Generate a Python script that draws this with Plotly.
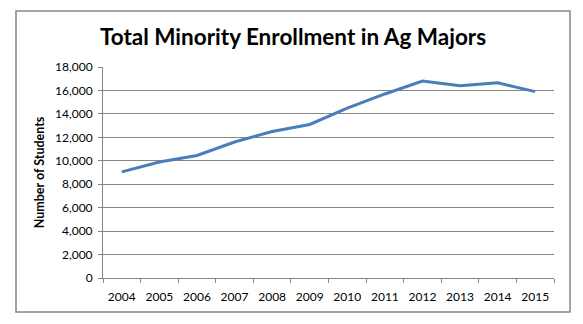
import plotly.graph_objects as go

years = ["2004", "2005", "2006", "2007", "2008", "2009", "2010", "2011", "2012", "2013", "2014", "2015"]
students = [9050, 9900, 10450, 11600, 12500, 13100, 14500, 15700, 16800, 16400, 16650, 15900]
title_text = "Total Minority Enrollment in Ag Majors"
y_title = "Number of Students"

fig = go.Figure()
fig.add_trace(go.Scatter(x=years, y=students, mode="lines",
                         line=dict(color="#4a7ebb", width=3), showlegend=False))

W, H = 583, 324
L, R, T, B = 103, 29, 67, 46
fig.update_layout(
    width=W, height=H,
    margin=dict(l=L, r=R, t=T, b=B),
    paper_bgcolor="white", plot_bgcolor="white",
    font=dict(family="Lato, Open Sans, sans-serif", color="black", size=12),
    title=dict(text="<b>" + title_text + "</b>", x=293 / W, xref="container", xanchor="center",
               y=1 - 37 / H, yanchor="middle", font=dict(size=22.5, family="Lato")),
    xaxis=dict(type="category", tickson="boundaries", ticks="outside", ticklen=4,
               range=[-0.5, 11.5],
               tickcolor="#868686", showline=True, linecolor="#868686", linewidth=1,
               showgrid=False, tickfont=dict(size=12), ticklabelstandoff=8),
    yaxis=dict(range=[0, 18000], dtick=2000, tickformat=",", ticks="outside", ticklen=4,
               tickcolor="#868686", showline=True, linecolor="#868686", linewidth=1,
               showgrid=True, gridcolor="#868686", gridwidth=1, zeroline=False,
               tickfont=dict(size=12), ticklabelstandoff=3,
               title=dict(text="<b>" + y_title + "</b>", font=dict(size=12.5), standoff=7)),
    shapes=[dict(type="rect", xref="paper", yref="paper",
                 x0=(16 - L) / (W - L - R), x1=(570 - L) / (W - L - R),
                 y0=(H - B - 312) / (H - T - B), y1=(H - B - 11) / (H - T - B),
                 line=dict(color="#868686", width=1.5), layer="below")],
)

fig.write_html("out.html")
